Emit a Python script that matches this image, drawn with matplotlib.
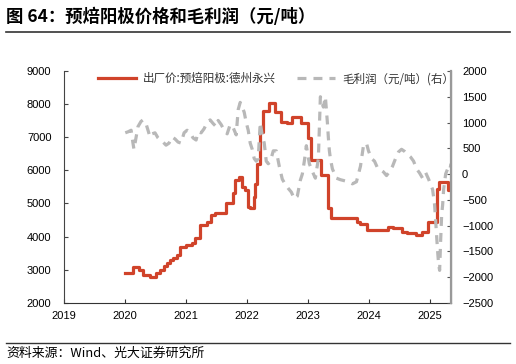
import matplotlib.pyplot as plt
import matplotlib.dates as mdates
import pandas as pd

plt.rcParams['font.family'] = ['Liberation Sans', 'Noto Sans CJK SC', 'DejaVu Sans']

# 出厂价:预焙阳极:德州永兴 (元/吨), change points of a step series
price_dates = ['2020-01-03', '2020-02-21', '2020-03-27', '2020-04-17', '2020-05-29',
               '2020-07-03', '2020-07-31', '2020-08-21', '2020-09-11', '2020-09-25',
               '2020-10-16', '2020-11-06', '2020-11-27', '2020-12-31', '2021-02-05',
               '2021-02-26', '2021-03-26', '2021-05-07', '2021-05-28', '2021-06-25',
               '2021-08-27', '2021-10-08', '2021-10-22', '2021-11-12', '2021-12-03',
               '2021-12-17', '2022-01-07', '2022-01-21', '2022-02-11', '2022-02-18',
               '2022-03-04', '2022-03-18', '2022-04-08', '2022-05-13', '2022-06-17',
               '2022-07-22', '2022-08-26', '2022-09-30', '2022-11-18', '2022-12-30',
               '2023-01-20', '2023-03-17', '2023-04-28', '2023-05-19', '2023-10-20',
               '2023-11-10', '2023-12-22', '2024-04-26', '2024-05-24', '2024-07-19',
               '2024-08-16', '2024-10-11', '2024-11-15', '2024-12-20', '2025-02-14',
               '2025-02-21', '2025-04-18', '2025-05-06']
price_values = [2900, 3080, 3000, 2850, 2790,
                2900, 3000, 3100, 3200, 3300,
                3350, 3450, 3700, 3750, 3800,
                3950, 4350, 4450, 4650, 4700,
                5000, 5330, 5700, 5800, 5500,
                5400, 4900, 4850, 5200, 5600,
                6200, 7150, 7800, 8030, 7760,
                7460, 7430, 7600, 7430, 6980,
                6300, 5860, 4870, 4550, 4450,
                4380, 4200, 4280, 4250, 4150,
                4100, 4050, 4150, 4450, 5450,
                5650, 5400, 5400]

# 毛利润 (元/吨), right axis
profit_dates = ['2020-01-03', '2020-01-20', '2020-02-07', '2020-02-18', '2020-02-24',
                '2020-03-07', '2020-03-19', '2020-04-06', '2020-04-18', '2020-05-06',
                '2020-05-18', '2020-05-30', '2020-06-11', '2020-06-29', '2020-07-17',
                '2020-07-29', '2020-08-16', '2020-09-03', '2020-09-21', '2020-10-09',
                '2020-10-27', '2020-11-14', '2020-12-02', '2020-12-20', '2021-01-07',
                '2021-01-25', '2021-02-12', '2021-03-02', '2021-03-14', '2021-04-01',
                '2021-04-19', '2021-05-07', '2021-05-25', '2021-06-12', '2021-06-30',
                '2021-07-12', '2021-07-30', '2021-08-17', '2021-09-04', '2021-09-22',
                '2021-10-10', '2021-10-28', '2021-11-09', '2021-11-21', '2021-12-03',
                '2021-12-15', '2021-12-27', '2022-01-08', '2022-01-20', '2022-02-01',
                '2022-02-13', '2022-02-25', '2022-03-09', '2022-03-21', '2022-04-02',
                '2022-04-14', '2022-04-26', '2022-05-08', '2022-05-20', '2022-06-07',
                '2022-06-25', '2022-07-13', '2022-07-31', '2022-08-18', '2022-09-05',
                '2022-09-23', '2022-10-11', '2022-10-29', '2022-11-16', '2022-11-28',
                '2022-12-10', '2022-12-22', '2023-01-09', '2023-01-27', '2023-02-14',
                '2023-03-04', '2023-03-16', '2023-04-03', '2023-04-15', '2023-04-27',
                '2023-05-03', '2023-05-09', '2023-05-15', '2023-05-27', '2023-06-20',
                '2023-07-14', '2023-08-07', '2023-08-31', '2023-09-24', '2023-10-18',
                '2023-11-11', '2023-11-29', '2023-12-17', '2023-12-29', '2024-01-16',
                '2024-02-03', '2024-02-21', '2024-03-10', '2024-03-28', '2024-04-15',
                '2024-05-03', '2024-05-21', '2024-06-08', '2024-06-26', '2024-07-14',
                '2024-08-01', '2024-08-19', '2024-09-06', '2024-09-24', '2024-10-12',
                '2024-10-30', '2024-11-17', '2024-12-05', '2024-12-23', '2025-01-04',
                '2025-01-16', '2025-01-28', '2025-02-03', '2025-02-09', '2025-02-15',
                '2025-02-21', '2025-02-27', '2025-03-05', '2025-03-11', '2025-03-17',
                '2025-03-23', '2025-04-04', '2025-04-16', '2025-04-28', '2025-05-06']
profit_values = [800, 820, 850, 600, 480,
                 700, 920, 1020, 1050, 980,
                 850, 720, 780, 800, 700,
                 660, 620, 560, 600, 720,
                 680, 620, 600, 800, 850,
                 800, 700, 660, 820, 800,
                 880, 1000, 1050, 980, 920,
                 1040, 960, 850, 780, 960,
                 900, 760, 1250, 1390, 1300,
                 1200, 1000, 850, 600, 480,
                 300, 250, 300, 1000, 750,
                 600, 250, 200, 240, 450,
                 450, 150, -100, -200, -280,
                 -350, -480, -430, -120, 0,
                 250, 550, 200, 50, -80,
                 300, 1500, 1300, 1500, 1000,
                 700, 450, 300, 100, -80,
                 -110, -130, -150, -190, -150,
                 150, 550, 600, 450, 300,
                 250, 120, 80, 40, -30,
                 50, 150, 300, 430, 480,
                 440, 380, 330, 250, 100,
                 20, -80, 30, -100, -200,
                 -300, -600, -900, -1200, -1500,
                 -1750, -1870, -1300, -800, -600,
                 -300, 0, 100, 60, 200]

year_ticks = ['2019', '2020', '2021', '2022', '2023', '2024', '2025']

red = '#D0432A'
grey = '#B8B8B8'
cjk = ['Noto Sans CJK SC', 'DejaVu Sans']

fig = plt.figure(figsize=(5.16, 3.64), dpi=100)
ax = fig.add_axes([0.124, 0.168, 0.750, 0.637])
ax2 = ax.twinx()

l1, = ax.plot(pd.to_datetime(price_dates), price_values, color=red, lw=2.3,
              drawstyle='steps-post', label='出厂价:预焙阳极:德州永兴')
l2, = ax2.plot(pd.to_datetime(profit_dates), profit_values, color=grey, lw=2.3,
               dashes=(2.8, 2.2), label='毛利润（元/吨）(右）')

ax.set_xlim(pd.Timestamp('2019-01-01'), pd.Timestamp('2025-05-06'))
ax.set_ylim(2000, 9000)
ax.set_yticks(range(2000, 9001, 1000))
ax2.set_ylim(-2500, 2000)
ax2.set_yticks(range(-2500, 2001, 500))
ax.set_xticks(pd.to_datetime([y + '-01-01' for y in year_ticks]))
ax.xaxis.set_major_formatter(mdates.DateFormatter('%Y'))

for a in (ax, ax2):
    a.spines['top'].set_visible(False)
ax.spines['left'].set_color('#444444')
ax.spines['bottom'].set_color('#333333')
ax2.spines['left'].set_visible(False)
ax2.spines['bottom'].set_visible(False)
ax2.spines['right'].set_color('#999999')
ax2.spines['right'].set_linewidth(1.6)

ax.tick_params(axis='y', direction='in', length=3, labelsize=8, pad=9, colors='#444444', labelcolor='black')
ax.tick_params(axis='x', direction='in', length=3, labelsize=8, pad=6, colors='#333333', labelcolor='black')
ax2.tick_params(axis='y', direction='in', length=3, labelsize=8, pad=8, colors='#555555', labelcolor='black')

leg = ax2.legend(handles=[l1, l2], loc='upper left', bbox_to_anchor=(0.06, 1.04), ncol=2,
                 frameon=False, handlelength=3.3, columnspacing=1.9,
                 handletextpad=0.6, prop={'family': cjk, 'size': 8.3})
for t in leg.get_texts():
    t.set_color('#333333')

fig.text(0.012, 0.955, '图 64：预焙阳极价格和毛利润（元/吨）', fontsize=12.5, fontweight='bold',
         va='center', ha='left', family=cjk)
fig.add_artist(plt.Line2D([0.012, 0.988], [0.913, 0.913], color='#333333', lw=1.2))
fig.add_artist(plt.Line2D([0.012, 0.988], [0.057, 0.057], color='#333333', lw=1.0))
fig.text(0.012, 0.030, '资料来源：Wind、光大证券研究所', fontsize=9.3, va='center', ha='left',
         family=cjk)

fig.savefig('out.png', dpi=100)
